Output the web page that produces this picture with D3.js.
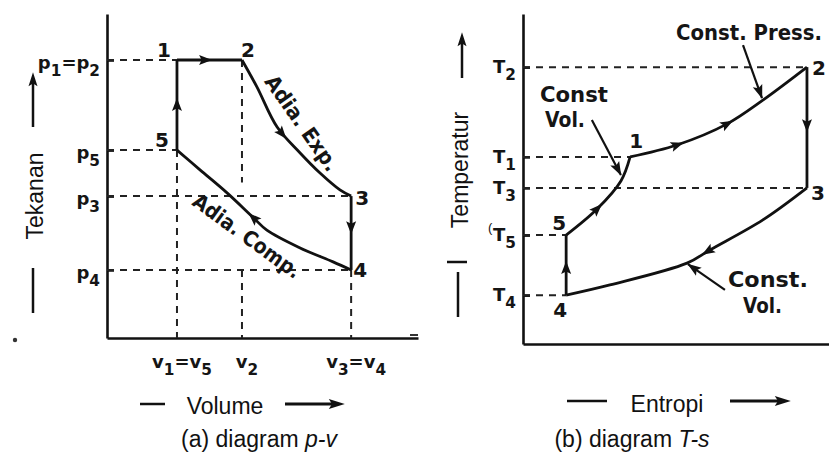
<!DOCTYPE html>
<html>
<head>
<meta charset="utf-8">
<script src="https://cdn.jsdelivr.net/npm/d3@7"></script>
<style>
  body { margin: 0; background: #fff; }
  .hand { font-family: "Liberation Sans Narrow", "DejaVu Sans", sans-serif; font-weight: bold; fill: #151515; }
  .plain { font-family: "Liberation Sans", Arial, sans-serif; fill: #111; }
</style>
</head>
<body>
<div id="chart"></div>
<script>
// ---- (a) p-v diagram, arbitrary units ----
var pvStates = ["1", "2", "3", "4", "5"];
var pvV = [2.25, 4.34, 7.85, 7.85, 2.25];
var pvP = [8.58, 8.58, 4.38, 2.10, 5.80];
// adiabatic expansion 2-3
var expV = [4.34, 4.82, 5.47, 6.21, 6.85, 7.49, 7.85];
var expP = [8.58, 7.75, 6.51, 5.71, 5.09, 4.57, 4.38];
// adiabatic compression, listed from 5 to 4
var compV = [2.25, 2.99, 3.86, 4.69, 5.14, 6.21, 7.27, 7.85];
var compP = [5.80, 5.19, 4.48, 3.73, 3.33, 2.78, 2.35, 2.10];
var pTicks = [8.58, 5.80, 4.38, 2.10];
var pTickLabels = ["p_1=p_2", "p_5", "p_3", "p_4"];
var vTicks = [2.25, 4.34, 7.85];
var vTickLabels = ["v_1=v_5", "v_2", "v_3=v_4"];
// arrow position along each process (fraction of its length)
var pvArrows = [["12", 0.43], ["23", 0.47], ["34", 0.42], ["45", 0.52], ["51", 0.5]];

// ---- (b) T-s diagram ----
var tsStates = ["1", "2", "3", "4", "5"];
var tsS = [3.50, 9.28, 9.28, 1.41, 1.41];
var tsT = [5.67, 8.39, 4.73, 1.48, 3.30];
// constant pressure 1-2
var cpS = [3.50, 5.03, 6.67, 7.84, 9.28];
var cpT = [5.67, 6.03, 6.67, 7.39, 8.39];
// constant volume 5-1
var cv51S = [1.41, 2.42, 3.20, 3.50];
var cv51T = [3.30, 4.09, 4.94, 5.67];
// constant volume, listed from 4 to 3
var cv43S = [1.41, 2.84, 5.36, 6.11, 7.84, 9.28];
var cv43T = [1.48, 1.79, 2.45, 2.85, 3.76, 4.73];
var tTicks = [8.39, 5.67, 4.73, 3.30, 1.48];
var tTickLabels = ["T_2", "T_1", "T_3", "T_5", "T_4"];
var tsArrows = [["51", 0.39], ["12", 0.24], ["12", 0.51], ["23", 0.48], ["34", 0.44], ["45", 0.45]];
// pointer lines for the process names: [from s, from T, to s, to T]
var tsPointers = [[7.19, 9.06, 7.81, 7.45], [2.25, 6.79, 3.20, 5.12], [6.60, 1.64, 5.39, 2.42]];

var width = 829, height = 460;
var svg = d3.select("#chart").append("svg")
  .attr("width", width)
  .attr("height", height);

var xa = d3.scaleLinear().domain([0, 10]).range([107, 418]);
var ya = d3.scaleLinear().domain([0, 10]).range([338, 14]);
var xb = d3.scaleLinear().domain([0, 10]).range([523, 829]);
var yb = d3.scaleLinear().domain([0, 10]).range([344, 14]);

function richLabel(t, str, fs) {
  // "_" marks next char as subscript
  var parts = [];
  for (var i = 0; i < str.length; i++) {
    if (str[i] === "_") { parts.push({ t: str[i + 1], sub: true }); i++; }
    else if (parts.length && !parts[parts.length - 1].sub) parts[parts.length - 1].t += str[i];
    else parts.push({ t: str[i], sub: false });
  }
  var prevSub = false;
  parts.forEach(function (p) {
    var ts = t.append("tspan").text(p.t);
    if (p.sub && !prevSub) ts.attr("dy", fs * 0.38).attr("font-size", fs * 0.85);
    else if (p.sub) ts.attr("font-size", fs * 0.85);
    else if (prevSub) ts.attr("dy", -fs * 0.38);
    prevSub = p.sub;
  });
}

function arrowHead(g, x, y, ang, len, hw) {
  g.append("path")
    .attr("d", "M" + (len * 0.55) + ",0L" + (-len * 0.45) + "," + (-hw) + "L" + (-len * 0.25) + ",0L" + (-len * 0.45) + "," + hw + "Z")
    .attr("transform", "translate(" + x + "," + y + ") rotate(" + ang + ")")
    .attr("fill", "#111");
}

function arrowOnPath(g, node, t) {
  var L = node.getTotalLength();
  var p = node.getPointAtLength(t * L);
  var q = node.getPointAtLength(Math.min(L, t * L + 2));
  var ang = Math.atan2(q.y - p.y, q.x - p.x) * 180 / Math.PI;
  arrowHead(g, p.x, p.y, ang, 13, 5);
}

function drawAxes(g, x, y, ticks) {
  g.append("g")
    .attr("transform", "translate(" + x.range()[0] + ",0)")
    .call(d3.axisLeft(y).tickValues(ticks).tickFormat("").tickSize(-7).tickSizeOuter(0))
    .call(function (a) { a.selectAll("path,line").attr("stroke", "#111").attr("stroke-width", 2.6); });
  g.append("g")
    .attr("transform", "translate(0," + y.range()[0] + ")")
    .call(d3.axisBottom(x).tickValues([]).tickSizeOuter(0))
    .call(function (a) { a.select("path").attr("stroke", "#111").attr("stroke-width", 2.6); });
}

function dashed(g, x, y, pts) {
  g.append("path")
    .attr("d", d3.line().x(function (d) { return x(d[0]); }).y(function (d) { return y(d[1]); })(pts))
    .attr("fill", "none")
    .attr("stroke", "#222")
    .attr("stroke-width", 2)
    .attr("stroke-dasharray", "7,6");
}

// condensed hand lettering: squeeze horizontally to a wanted width
function handText(g, x, y, rot, anchor, str, len) {
  var t = g.append("text").attr("class", "hand")
    .attr("font-size", 21).attr("text-anchor", anchor).text(str);
  if (rot) t.attr("dy", "0.35em");
  var sx = len / t.node().getComputedTextLength();
  t.attr("transform", "translate(" + x + "," + y + ") rotate(" + rot + ") scale(" + sx + ",1)");
}

// ================= (a) p-v =================
var ga = svg.append("g");
drawAxes(ga, xa, ya, pTicks);

dashed(ga, xa, ya, [[0, pvP[0]], [pvV[0], pvP[0]]]);
dashed(ga, xa, ya, [[0, pvP[4]], [pvV[4], pvP[4]]]);
dashed(ga, xa, ya, [[0, pvP[2]], [pvV[2], pvP[2]]]);
dashed(ga, xa, ya, [[0, pvP[3]], [pvV[3], pvP[3]]]);
dashed(ga, xa, ya, [[pvV[4], pvP[4]], [pvV[4], 0]]);
dashed(ga, xa, ya, [[pvV[1], pvP[1]], [pvV[1], 4.8]]);
dashed(ga, xa, ya, [[pvV[1], pvP[3]], [pvV[1], 0]]);
dashed(ga, xa, ya, [[pvV[3], pvP[3]], [pvV[3], 0]]);

var lineA = d3.line().x(function (d) { return xa(d[0]); }).y(function (d) { return ya(d[1]); }).curve(d3.curveCatmullRom);
var pvPaths = {
  "12": [[pvV[0], pvP[0]], [pvV[1], pvP[1]]],
  "23": d3.zip(expV, expP),
  "34": [[pvV[2], pvP[2]], [pvV[3], pvP[3]]],
  "45": d3.zip(compV, compP).reverse(),
  "51": [[pvV[4], pvP[4]], [pvV[0], pvP[0]]]
};
var pvNodes = {};
Object.keys(pvPaths).forEach(function (k) {
  pvNodes[k] = ga.append("path")
    .attr("d", lineA(pvPaths[k]))
    .attr("fill", "none")
    .attr("stroke", "#111")
    .attr("stroke-width", 2.8)
    .node();
});
pvArrows.forEach(function (a) { arrowOnPath(ga, pvNodes[a[0]], a[1]); });

// state numbers
var pvOff = [[-13, -3], [6, -3], [11, 9], [9, 7], [-15, -3]];
pvStates.forEach(function (s, i) {
  ga.append("text").attr("class", "hand")
    .attr("x", xa(pvV[i]) + pvOff[i][0]).attr("y", ya(pvP[i]) + pvOff[i][1])
    .attr("text-anchor", "middle").attr("font-size", 20).text(s);
});

// p labels
pTicks.forEach(function (p, i) {
  var t = ga.append("text").attr("class", "hand")
    .attr("x", 100).attr("y", ya(p) + 9)
    .attr("text-anchor", "end").attr("font-size", 18);
  richLabel(t, pTickLabels[i], 18);
});
// v labels
vTicks.forEach(function (v, i) {
  var t = ga.append("text").attr("class", "hand")
    .attr("x", xa(v) + 5).attr("y", 368)
    .attr("text-anchor", "middle").attr("font-size", 18);
  richLabel(t, vTickLabels[i], 18);
});

handText(ga, 302, 123, 55, "middle", "Adia. Exp.", 112);
handText(ga, 247, 236, 36, "middle", "Adia. Comp.", 128);

// axis titles
ga.append("text").attr("class", "plain")
  .attr("transform", "translate(43,196) rotate(-90)")
  .attr("text-anchor", "middle").attr("font-size", 23).text("Tekanan");
ga.append("line").attr("x1", 33).attr("x2", 33).attr("y1", 127).attr("y2", 82).attr("stroke", "#111").attr("stroke-width", 2.5);
arrowHead(ga, 33, 80, -90, 14, 4.5);
ga.append("line").attr("x1", 33).attr("x2", 33).attr("y1", 268).attr("y2", 313).attr("stroke", "#111").attr("stroke-width", 2.5);
ga.append("circle").attr("cx", 15).attr("cy", 340).attr("r", 2.2).attr("fill", "#333");

ga.append("text").attr("class", "plain")
  .attr("x", 225).attr("y", 414).attr("text-anchor", "middle").attr("font-size", 23).text("Volume");
ga.append("line").attr("x1", 140).attr("x2", 165).attr("y1", 404).attr("y2", 404).attr("stroke", "#111").attr("stroke-width", 2.5);
ga.append("line").attr("x1", 285).attr("x2", 332).attr("y1", 404).attr("y2", 404).attr("stroke", "#111").attr("stroke-width", 3);
arrowHead(ga, 336, 404, 0, 16, 5);

var capA = ga.append("text").attr("class", "plain")
  .attr("x", 259).attr("y", 447).attr("text-anchor", "middle").attr("font-size", 23);
capA.append("tspan").text("(a) diagram ");
capA.append("tspan").attr("font-style", "italic").text("p-v");

// ================= (b) T-s =================
var gb = svg.append("g");
drawAxes(gb, xb, yb, tTicks);

var tsIdx = { "T_2": 1, "T_1": 0, "T_3": 2, "T_5": 4, "T_4": 3 };
tTicks.forEach(function (T, i) {
  var k = tsIdx[tTickLabels[i]];
  dashed(gb, xb, yb, [[0, T], [tsS[k], T]]);
});

var lineB = d3.line().x(function (d) { return xb(d[0]); }).y(function (d) { return yb(d[1]); }).curve(d3.curveCatmullRom);
var tsPaths = {
  "12": d3.zip(cpS, cpT),
  "23": [[tsS[1], tsT[1]], [tsS[2], tsT[2]]],
  "34": d3.zip(cv43S, cv43T).reverse(),
  "45": [[tsS[3], tsT[3]], [tsS[4], tsT[4]]],
  "51": d3.zip(cv51S, cv51T)
};
var tsNodes = {};
Object.keys(tsPaths).forEach(function (k) {
  tsNodes[k] = gb.append("path")
    .attr("d", lineB(tsPaths[k]))
    .attr("fill", "none")
    .attr("stroke", "#111")
    .attr("stroke-width", 2.8)
    .node();
});
tsArrows.forEach(function (a) { arrowOnPath(gb, tsNodes[a[0]], a[1]); });

tsPointers.forEach(function (p) {
  var x1 = xb(p[0]), y1 = yb(p[1]), x2 = xb(p[2]), y2 = yb(p[3]);
  gb.append("line").attr("x1", x1).attr("y1", y1).attr("x2", x2).attr("y2", y2)
    .attr("stroke", "#111").attr("stroke-width", 2.2);
  var ang = Math.atan2(y2 - y1, x2 - x1) * 180 / Math.PI;
  var d = 7;
  arrowHead(gb, x2 - d * Math.cos(ang * Math.PI / 180), y2 - d * Math.sin(ang * Math.PI / 180), ang, 14, 5);
});

var tsOff = [[6, -9], [12, 8], [11, 12], [-6, 22], [-7, -5]];
tsStates.forEach(function (s, i) {
  gb.append("text").attr("class", "hand")
    .attr("x", xb(tsS[i]) + tsOff[i][0]).attr("y", yb(tsT[i]) + tsOff[i][1])
    .attr("text-anchor", "middle").attr("font-size", 20).text(s);
});

tTicks.forEach(function (T, i) {
  var t = gb.append("text").attr("class", "hand")
    .attr("x", 516).attr("y", yb(T) + 6)
    .attr("text-anchor", "end").attr("font-size", 18);
  richLabel(t, tTickLabels[i], 18);
});
gb.append("text").attr("class", "plain").attr("x", 488).attr("y", 232)
  .attr("font-size", 13).attr("fill", "#555").text("(");

handText(gb, 676, 40, 0, "start", "Const. Press.", 146);
handText(gb, 540, 102, 0, "start", "Const", 68);
handText(gb, 545, 127, 0, "start", "Vol.", 40);
handText(gb, 728, 287, 0, "start", "Const.", 80);
handText(gb, 743, 313, 0, "start", "Vol.", 39);

gb.append("text").attr("class", "plain")
  .attr("transform", "translate(468,170) rotate(-90)")
  .attr("text-anchor", "middle").attr("font-size", 23).text("Temperatur");
gb.append("line").attr("x1", 462).attr("x2", 462).attr("y1", 78).attr("y2", 42).attr("stroke", "#111").attr("stroke-width", 2.5);
arrowHead(gb, 462, 40, -90, 14, 4.5);
gb.append("line").attr("x1", 447).attr("x2", 467).attr("y1", 262).attr("y2", 262).attr("stroke", "#111").attr("stroke-width", 2.5);
gb.append("line").attr("x1", 458).attr("x2", 458).attr("y1", 272).attr("y2", 317).attr("stroke", "#111").attr("stroke-width", 2.5);
gb.append("line").attr("x1", 410).attr("x2", 418).attr("y1", 335).attr("y2", 335).attr("stroke", "#333").attr("stroke-width", 2);

gb.append("text").attr("class", "plain")
  .attr("x", 667).attr("y", 412).attr("text-anchor", "middle").attr("font-size", 23).text("Entropi");
gb.append("line").attr("x1", 567).attr("x2", 607).attr("y1", 401).attr("y2", 401).attr("stroke", "#111").attr("stroke-width", 2.5);
gb.append("line").attr("x1", 730).attr("x2", 778).attr("y1", 401).attr("y2", 401).attr("stroke", "#111").attr("stroke-width", 3);
arrowHead(gb, 782, 401, 0, 16, 5);

var capB = gb.append("text").attr("class", "plain")
  .attr("x", 632).attr("y", 447).attr("text-anchor", "middle").attr("font-size", 23);
capB.append("tspan").text("(b) diagram ");
capB.append("tspan").attr("font-style", "italic").text("T-s");
</script>
</body>
</html>
